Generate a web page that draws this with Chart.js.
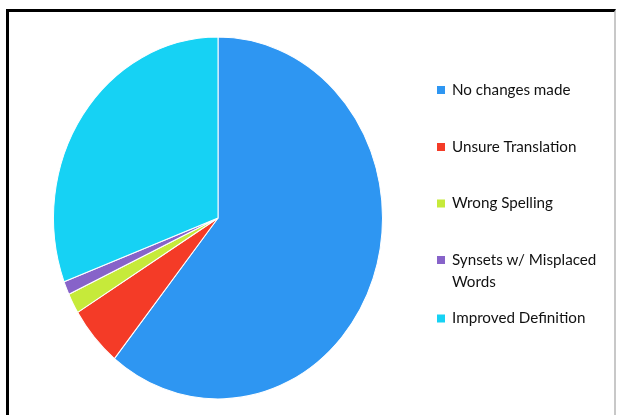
<!DOCTYPE html>
<html>
<head>
<meta charset="utf-8">
<script src="https://cdn.jsdelivr.net/npm/chart.js@4/dist/chart.umd.min.js"></script>
<style>
  html, body { margin: 0; padding: 0; background: #fff; }
  #wrap { position: relative; width: 617px; height: 415px; overflow: hidden; }
  #frame {
    position: absolute; left: 6px; top: 9px; width: 610px; height: 420px;
    border-top: 3px solid #000; border-left: 3px solid #000; border-right: 2px solid #c8c8c8;
    box-sizing: border-box;
  }
  canvas { position: absolute; left: 0; top: 0; }
</style>
</head>
<body>
<div id="wrap">
  <div id="frame"></div>
  <canvas id="c" width="617" height="415"></canvas>
</div>
<script>
// Categories and counts of revised synsets
const categories = [
  'No changes made',
  'Unsure Translation',
  'Wrong Spelling',
  ['Synsets w/ Misplaced', 'Words'],
  'Improved Definition'
];
const counts = [101, 9, 3, 2, 51];
const sliceColors = ['#2E96F2', '#F43B27', '#C6EA3A', '#8763C9', '#16D2F4'];

// Stretch the pie vertically around its centre (the drawing area is taller than wide)
const ovalPie = {
  id: 'ovalPie',
  beforeDatasetsDraw(chart) {
    const arc = chart.getDatasetMeta(0).data[0];
    const ctx = chart.ctx;
    ctx.save();
    ctx.translate(arc.x, arc.y);
    ctx.scale(1, 1.1);
    ctx.translate(-arc.x, -arc.y);
  },
  afterDatasetsDraw(chart) {
    chart.ctx.restore();
  }
};

// Legend at the right: square swatch followed by the (possibly wrapped) label
const sideLegend = {
  id: 'sideLegend',
  afterDraw(chart) {
    const ctx = chart.ctx;
    const labels = chart.data.labels;
    const colors = chart.data.datasets[0].backgroundColor;
    const x0 = 437, tx = 452, lineH = 22.5;
    const ys = [90, 147, 203.5, 260, 318.5];
    ctx.save();
    ctx.font = '15.2px Lato, "DejaVu Sans", sans-serif';
    ctx.textBaseline = 'middle';
    ctx.textAlign = 'left';
    labels.forEach((lab, i) => {
      const y = ys[i];
      ctx.fillStyle = colors[i];
      ctx.fillRect(x0, y - 4, 8, 8);
      ctx.fillStyle = '#111111';
      const lines = Array.isArray(lab) ? lab : [lab];
      lines.forEach((t, k) => ctx.fillText(t, tx, y + k * lineH));
    });
    ctx.restore();
  }
};

new Chart(document.getElementById('c'), {
  type: 'pie',
  data: {
    labels: categories,
    datasets: [{
      data: counts,
      backgroundColor: sliceColors,
      borderColor: '#ffffff',
      borderWidth: 1
    }]
  },
  options: {
    responsive: false,
    animation: false,
    layout: { padding: { left: 53, right: 234, top: 53, bottom: 32 } },
    plugins: {
      legend: { display: false },
      tooltip: { enabled: false },
      title: { display: false }
    }
  },
  plugins: [ovalPie, sideLegend]
});
</script>
</body>
</html>
